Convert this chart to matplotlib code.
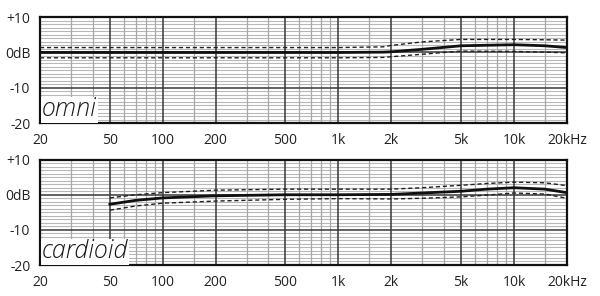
import matplotlib.pyplot as plt
import numpy as np

# omni response (Hz, dB)
omni_f = [20, 1000, 1800, 2000, 3000, 5000, 10000, 15000, 20000]
omni_mid = [0, 0, 0.1, 0.2, 0.9, 1.9, 2.2, 1.9, 1.4]
omni_hi = [1.4, 1.4, 1.6, 2.0, 3.0, 3.7, 3.7, 3.6, 3.5]
omni_lo = [-1.5, -1.5, -1.4, -1.2, -0.5, 0.4, 0.3, 0.1, -0.1]

# cardioid response (Hz, dB)
card_f = [50, 70, 100, 200, 500, 1000, 2000, 3000, 5000, 7000, 10000, 15000, 20000]
card_mid = [-2.7, -1.6, -0.9, -0.3, 0, 0, 0.1, 0.5, 1.0, 1.6, 2.0, 1.6, 0.6]
card_hi = [-0.9, 0, 0.6, 1.3, 1.6, 1.6, 1.6, 2.0, 2.7, 3.2, 3.6, 3.4, 2.6]
card_lo = [-4.4, -3.2, -2.4, -1.8, -1.3, -1.1, -1.2, -1.0, -0.6, -0.1, 0.5, 0.2, -1.0]

xticks = [20, 50, 100, 200, 500, 1000, 2000, 5000, 10000, 20000]
xlabels = ["20", "50", "100", "200", "500", "1k", "2k", "5k", "10k", "20kHz"]
xmajor = [50, 100, 200, 500, 1000, 2000, 5000, 10000]
xminor = [30, 40, 60, 70, 80, 90, 150, 300, 400, 600, 700, 800, 900,
          1500, 3000, 4000, 6000, 7000, 8000, 9000, 15000]
yticks = [10, 0, -10, -20]
ylabels = ["+10", "0dB", "-10", "-20"]

plt.rcParams['font.family'] = ['Open Sans', 'DejaVu Sans']

fig = plt.figure(figsize=(6, 2.96), dpi=100)
ax1 = fig.add_axes([0.0667, 0.584, 0.878, 0.358])
ax2 = fig.add_axes([0.0667, 0.1047, 0.878, 0.356])

paneles = [(ax1, "omni", omni_f, omni_mid, omni_hi, omni_lo),
           (ax2, "cardioid", card_f, card_mid, card_hi, card_lo)]

for ax, nombre, f, mid, hi, lo in paneles:
    ax.set_xscale("log")
    ax.set_xlim(20, 20000)
    ax.set_ylim(-20, 10)

    for db in range(-19, 10):
        if db % 10 != 0:
            ax.axhline(db, color="#b8b8b8", lw=0.8, zorder=1)
    for x in xminor:
        ax.axvline(x, color="#a8a8a8", lw=0.9, zorder=1)
    for x in xmajor:
        ax.axvline(x, color="#383838", lw=1.1, zorder=2)
    for db in [0, -10]:
        ax.axhline(db, color="#383838", lw=1.1, zorder=2)

    ax.plot(f, hi, color="#202020", lw=1.0, ls=(0, (3, 2)), zorder=3)
    ax.plot(f, lo, color="#202020", lw=1.0, ls=(0, (3, 2)), zorder=3)
    ax.plot(f, mid, color="#101010", lw=2.0, zorder=4)

    ax.text(20.5, -19.8, nombre, fontsize=18, style="italic", weight="light",
            color="#1a1a1a", va="bottom", ha="left", zorder=5,
            bbox=dict(facecolor="white", edgecolor="none", pad=0.5))

    ax.set_xticks(xticks)
    ax.set_xticklabels(xlabels)
    ax.minorticks_off()
    ax.set_yticks(yticks)
    ax.set_yticklabels(ylabels)
    ax.tick_params(length=0, labelsize=10, colors="#222222", pad=7)
    for s in ax.spines.values():
        s.set_linewidth(1.6)
        s.set_color("#111111")

fig.savefig("out.png", dpi=100)
